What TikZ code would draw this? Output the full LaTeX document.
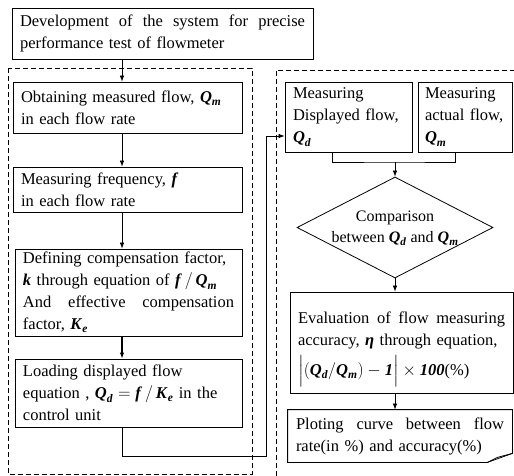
\documentclass[tikz,border=0pt]{standalone}
\usepackage{amsmath}
\usepackage{fontspec}
\setmainfont{Liberation Serif}
\usetikzlibrary{shapes.geometric,arrows.meta}
\newcommand{\bi}[1]{\textbf{\textit{#1}}}
\newcommand{\jline}[2]{\makebox[#1][s]{#2}}

\begin{document}
\begin{tikzpicture}[x=1pt, y=-1pt,
  box/.style = {draw, line width=0.8pt, font=\fontsize{16.5}{22}\selectfont, align=left, inner xsep=8pt, inner ysep=3pt},
  lbl/.style = {font=\fontsize{16.5}{22}\selectfont, inner sep=0pt},
  arr/.style = {-{Latex[length=6pt,width=4.5pt]}, line width=0.7pt},
  link/.style = {line width=0.7pt},
  dashbox/.style = {line width=0.9pt, dash pattern=on 5pt off 3pt}]

\useasboundingbox (0,0) rectangle (514,476);

\node[box, text width=285pt, minimum height=51pt] (top) at (162.5,33.5) {\jline{285pt}{Development\hfill of\hfill the\hfill system\hfill for\hfill precise}\\ performance test of flowmeter};

\node[box, text width=213pt, minimum height=51pt] (meas) at (127.5,107.5) {Obtaining measured flow, $\bi{Q}_{\bi{m}}$\\ in each flow rate};
\node[box, text width=213pt, minimum height=45pt] (freq) at (127.5,189.5) {Measuring frequency, \bi{f}\\ in each flow rate};
\node[box, text width=211pt, minimum height=87pt] (comp) at (128.5,292.5) {Defining compensation factor,\\ \bi{k} through equation of $\bi{f}\,/\,\bi{Q}_{\bi{m}}$\\ \jline{211pt}{And\hfill effective\hfill compensation}\\ factor, $\bi{K}_{\bi{e}}$};
\node[box, text width=211pt, minimum height=68pt] (load) at (128.5,393) {Loading displayed flow\\ equation , $\bi{Q}_{\bi{d}}=\bi{f}\,/\,\bi{K}_{\bi{e}}$ in the\\ control unit};

\node[box, text width=111pt, minimum height=70pt] (disp) at (348.5,117) {Measuring\\ Displayed flow,\\ $\bi{Q}_{\bi{d}}$};
\node[box, inner xsep=7pt, text width=80pt, minimum height=70pt] (act) at (465,117) {Measuring\\ actual flow,\\ $\bi{Q}_{\bi{m}}$};
\node[draw, diamond, line width=0.8pt, minimum width=196pt, minimum height=101pt, inner sep=0pt,
  label={[lbl, font=\fontsize{16}{21}\selectfont, align=center, yshift=-1pt]center:Comparison\\ between $\bi{Q}_{\bi{d}}$ and $\bi{Q}_{\bi{m}}$}] (cmp) at (395,227.5) {};
\node[box, text width=207pt, minimum height=101pt,
  label={[lbl, text width=207pt, align=left, yshift=-7pt]center:\jline{207pt}{Evaluation\hfill of\hfill flow\hfill measuring}\\ accuracy, \bi{η} through equation,\\[5pt] $\Big|(\bi{Q}_{\bi{d}}/\bi{Q}_{\bi{m}})-\bi{1}\Big|\times\bi{100}$(\%)}] (eval) at (401.5,342.5) {};
\node[box, draw=none, text width=208pt, minimum height=52pt] (plot) at (400,436) {\jline{208pt}{Ploting\hfill curve\hfill between\hfill flow}\\ rate(in \%) and accuracy(\%)};

\coordinate (lc) at (122,0);
\coordinate (bend) at (266,456);
\coordinate (merge) at (395,162);

% dashed groups
\draw[dashbox] (8,68) rectangle (252,474);
\draw[dashbox] (276,476) -- (276,70) -- (514,70);

% page with folded corner
\draw[line width=0.8pt] (plot.south west) -- (plot.north west) -- (plot.north east) -- ([yshift=9pt]plot.south east) -- ([xshift=-25pt]plot.south east) -- cycle;
\draw[line width=0.8pt] ([xshift=-25pt]plot.south east) -- ([xshift=-15pt,yshift=5pt]plot.south east) -- ([yshift=9pt]plot.south east);

\draw[arr] (lc |- top.south) -- (lc |- meas.north);
\draw[arr] (lc |- meas.south) -- (lc |- freq.north);
\draw[arr] (lc |- freq.south) -- (lc |- comp.north);
\draw[arr, line width=1.2pt] (lc |- comp.south) -- (lc |- load.north);
\draw[arr] (lc |- load.south) |- (bend) |- ([yshift=-19pt]disp.west);

\draw[link] ([xshift=-16.5pt]disp.south) |- (merge) -| ([xshift=-10pt]act.south);
\draw[arr] (merge) -- (cmp.north);
\draw[arr] (cmp.south) -- (cmp.south |- eval.north);
\draw[arr] (cmp.south |- eval.south) -- (cmp.south |- plot.north);

\end{tikzpicture}
\end{document}
